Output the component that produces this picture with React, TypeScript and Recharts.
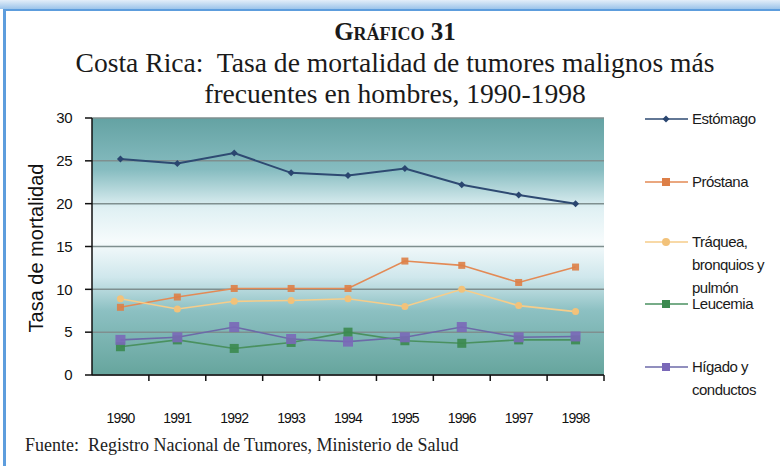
import { LineChart, Line, XAxis, YAxis, CartesianGrid } from "recharts"

const years = ["1990", "1991", "1992", "1993", "1994", "1995", "1996", "1997", "1998"]
const estomago = [25.2, 24.7, 25.9, 23.6, 23.3, 24.1, 22.2, 21.0, 20.0]
const prostata = [7.9, 9.1, 10.1, 10.1, 10.1, 13.3, 12.8, 10.8, 12.6]
const traquea = [8.9, 7.7, 8.6, 8.7, 8.9, 8.0, 10.0, 8.1, 7.4]
const leucemia = [3.3, 4.1, 3.1, 3.8, 5.0, 4.0, 3.7, 4.1, 4.1]
const higado = [4.1, 4.4, 5.6, 4.2, 3.9, 4.4, 5.6, 4.4, 4.5]
const yTicks = [0, 5, 10, 15, 20, 25, 30]

const data = years.map((year, i) => ({
  year,
  estomago: estomago[i],
  prostata: prostata[i],
  traquea: traquea[i],
  leucemia: leucemia[i],
  higado: higado[i],
}))

type Shape = "diamond" | "square" | "circle"

const series: { key: string; name: string[]; color: string; line: string; shape: Shape; size: number }[] = [
  { key: "estomago", name: ["Estómago"], color: "#2a4670", line: "#2e4a72", shape: "diamond", size: 7 },
  { key: "prostata", name: ["Próstana"], color: "#dd7f47", line: "#e38a55", shape: "square", size: 7 },
  { key: "traquea", name: ["Tráquea,", "bronquios y", "pulmón"], color: "#f2c27a", line: "#f6cd8a", shape: "circle", size: 7 },
  { key: "leucemia", name: ["Leucemia"], color: "#3b8a4f", line: "#4a9160", shape: "square", size: 9 },
  { key: "higado", name: ["Hígado y", "conductos"], color: "#7a68b8", line: "#6c6aa8", shape: "square", size: 10 },
]

// legend row centres on the page
const legendTops = [119, 182, 242, 304, 367]

const CHART_W = 780
const CHART_H = 320
const MARGIN = { top: 13, right: 176, bottom: 20, left: 0 }
const Y_W = 92
const HALF_BAND = (CHART_W - MARGIN.right - MARGIN.left - Y_W) / years.length / 2
const SANS = "Liberation Sans, Arial, sans-serif"
const SERIF = "Liberation Serif, Times New Roman, serif"

function marker(shape: Shape, color: string, size: number) {
  return (props: any) => {
    const { cx, cy, index } = props
    if (cx == null || cy == null) return <g key={index} />
    const s = size / 2
    if (shape === "diamond")
      return (
        <path key={index} d={`M${cx},${cy - s} L${cx + s},${cy} L${cx},${cy + s} L${cx - s},${cy} Z`} fill={color} />
      )
    if (shape === "circle") return <circle key={index} cx={cx} cy={cy} r={s} fill={color} />
    return <rect key={index} x={cx - s} y={cy - s} width={size} height={size} fill={color} opacity={0.9} />
  }
}

function XTick(props: any) {
  const { x, y, payload } = props
  return (
    <g>
      <line x1={x + HALF_BAND} y1={y - 8} x2={x + HALF_BAND} y2={y - 2} stroke="#111" strokeWidth={1.5} />
      <text x={x} y={y + 40} textAnchor="middle" fontSize={14} fill="#111" letterSpacing={-0.8} fontFamily={SANS}>
        {payload.value}
      </text>
    </g>
  )
}

function LegendBox() {
  return (
    <div style={{ position: "absolute", left: 645, top: 0, fontFamily: SANS }}>
      {series.map((s, i) => (
        <div key={s.key} style={{ position: "absolute", left: 0, top: legendTops[i] }}>
          <svg width={46} height={14} style={{ position: "absolute", left: 0, top: -7 }}>
            <line x1={0} y1={7} x2={43} y2={7} stroke={s.line} strokeWidth={1.5} />
            {s.shape === "diamond" ? (
              <path d="M21,3.5 L24.5,7 L21,10.5 L17.5,7 Z" fill={s.color} />
            ) : s.shape === "circle" ? (
              <circle cx={21} cy={7} r={4} fill={s.color} />
            ) : (
              <rect x={17} y={3} width={8} height={8} fill={s.color} />
            )}
          </svg>
          <div style={{ position: "absolute", left: 47, top: -10, fontSize: 15, lineHeight: "22px", color: "#1a1a1a",
            letterSpacing: -0.5, whiteSpace: "nowrap" }}>
            {s.name.map((n) => (
              <div key={n} style={{ height: 22, lineHeight: "18px", paddingTop: 1 }}>{n}</div>
            ))}
          </div>
        </div>
      ))}
    </div>
  )
}

export default function App() {
  return (
    <div style={{ position: "absolute", left: 0, top: 0, width: 780, height: 466, background: "#fff", overflow: "hidden" }}>
      <div style={{ position: "absolute", left: 0, top: 0, width: 780, height: 9,
        background: "linear-gradient(#e3eef9, #9cc4ea)" }} />
      <div style={{ position: "absolute", left: 3, top: 9, width: 777, height: 460,
        borderTop: "2px solid #5d9ddd", borderLeft: "3px solid #5d9ddd" }} />

      <div style={{ position: "absolute", left: 0, top: 19, width: 790, textAlign: "center", fontFamily: SERIF,
        color: "#1a1a1a", fontSize: 25, lineHeight: "25px", fontWeight: "bold", fontVariant: "small-caps" }}>
        Gráfico 31
      </div>
      <div style={{ position: "absolute", left: 0, top: 49, width: 790, textAlign: "center", fontFamily: SERIF,
        color: "#1a1a1a", fontSize: 27.6, lineHeight: "27px", whiteSpace: "pre" }}>
        {"Costa Rica:  Tasa de mortalidad de tumores malignos más"}
      </div>
      <div style={{ position: "absolute", left: 0, top: 80, width: 790, textAlign: "center", fontFamily: SERIF,
        color: "#1a1a1a", fontSize: 27.6, lineHeight: "27px" }}>
        frecuentes en hombres, 1990-1998
      </div>

      <div style={{ position: "absolute", left: 36, top: 248, width: 0, height: 0 }}>
        <div style={{ position: "absolute", transform: "translate(-50%, -50%) rotate(-90deg)", whiteSpace: "nowrap",
          fontFamily: SANS, fontSize: 20, color: "#111" }}>
          Tasa de mortalidad
        </div>
      </div>

      <div style={{ position: "absolute", left: 0, top: 105 }}>
        <LineChart width={CHART_W} height={CHART_H} data={data} margin={MARGIN}>
          <defs>
            <linearGradient id="bg" x1="0" y1="0" x2="0" y2="1">
              <stop offset="0%" stopColor="#64a2a3" />
              <stop offset="20%" stopColor="#86bcc0" />
              <stop offset="35%" stopColor="#dff0f3" />
              <stop offset="48%" stopColor="#f6fbfc" />
              <stop offset="62%" stopColor="#cfe7ec" />
              <stop offset="75%" stopColor="#8cc0c2" />
              <stop offset="100%" stopColor="#66a59d" />
            </linearGradient>
          </defs>
          <CartesianGrid vertical={false} fill="url(#bg)" fillOpacity={1} stroke="#7f8f8f" strokeWidth={1.5} />
          <XAxis dataKey="year" padding={{ left: HALF_BAND, right: HALF_BAND }} height={30}
            axisLine={{ stroke: "#111", strokeWidth: 1.5 }} tickLine={false} tick={<XTick />} interval={0} />
          <YAxis width={Y_W} domain={[0, 30]} ticks={yTicks} tickSize={7} tickMargin={13}
            axisLine={{ stroke: "#111", strokeWidth: 1.5 }} tickLine={{ stroke: "#111", strokeWidth: 1.5 }}
            tick={{ fontSize: 15, fill: "#111", fontFamily: SANS, letterSpacing: -0.5 }} />
          {series.map((s) => (
            <Line key={s.key} type="linear" dataKey={s.key} stroke={s.line} strokeWidth={s.key === "estomago" ? 2 : 1.6}
              dot={marker(s.shape, s.color, s.size)} activeDot={false} isAnimationActive={false} />
          ))}
        </LineChart>
      </div>

      <LegendBox />

      <div style={{ position: "absolute", left: 25, top: 435, fontFamily: SERIF, fontSize: 18, lineHeight: "20px",
        color: "#222", whiteSpace: "pre" }}>
        {"Fuente:  Registro Nacional de Tumores, Ministerio de Salud"}
      </div>
    </div>
  )
}
